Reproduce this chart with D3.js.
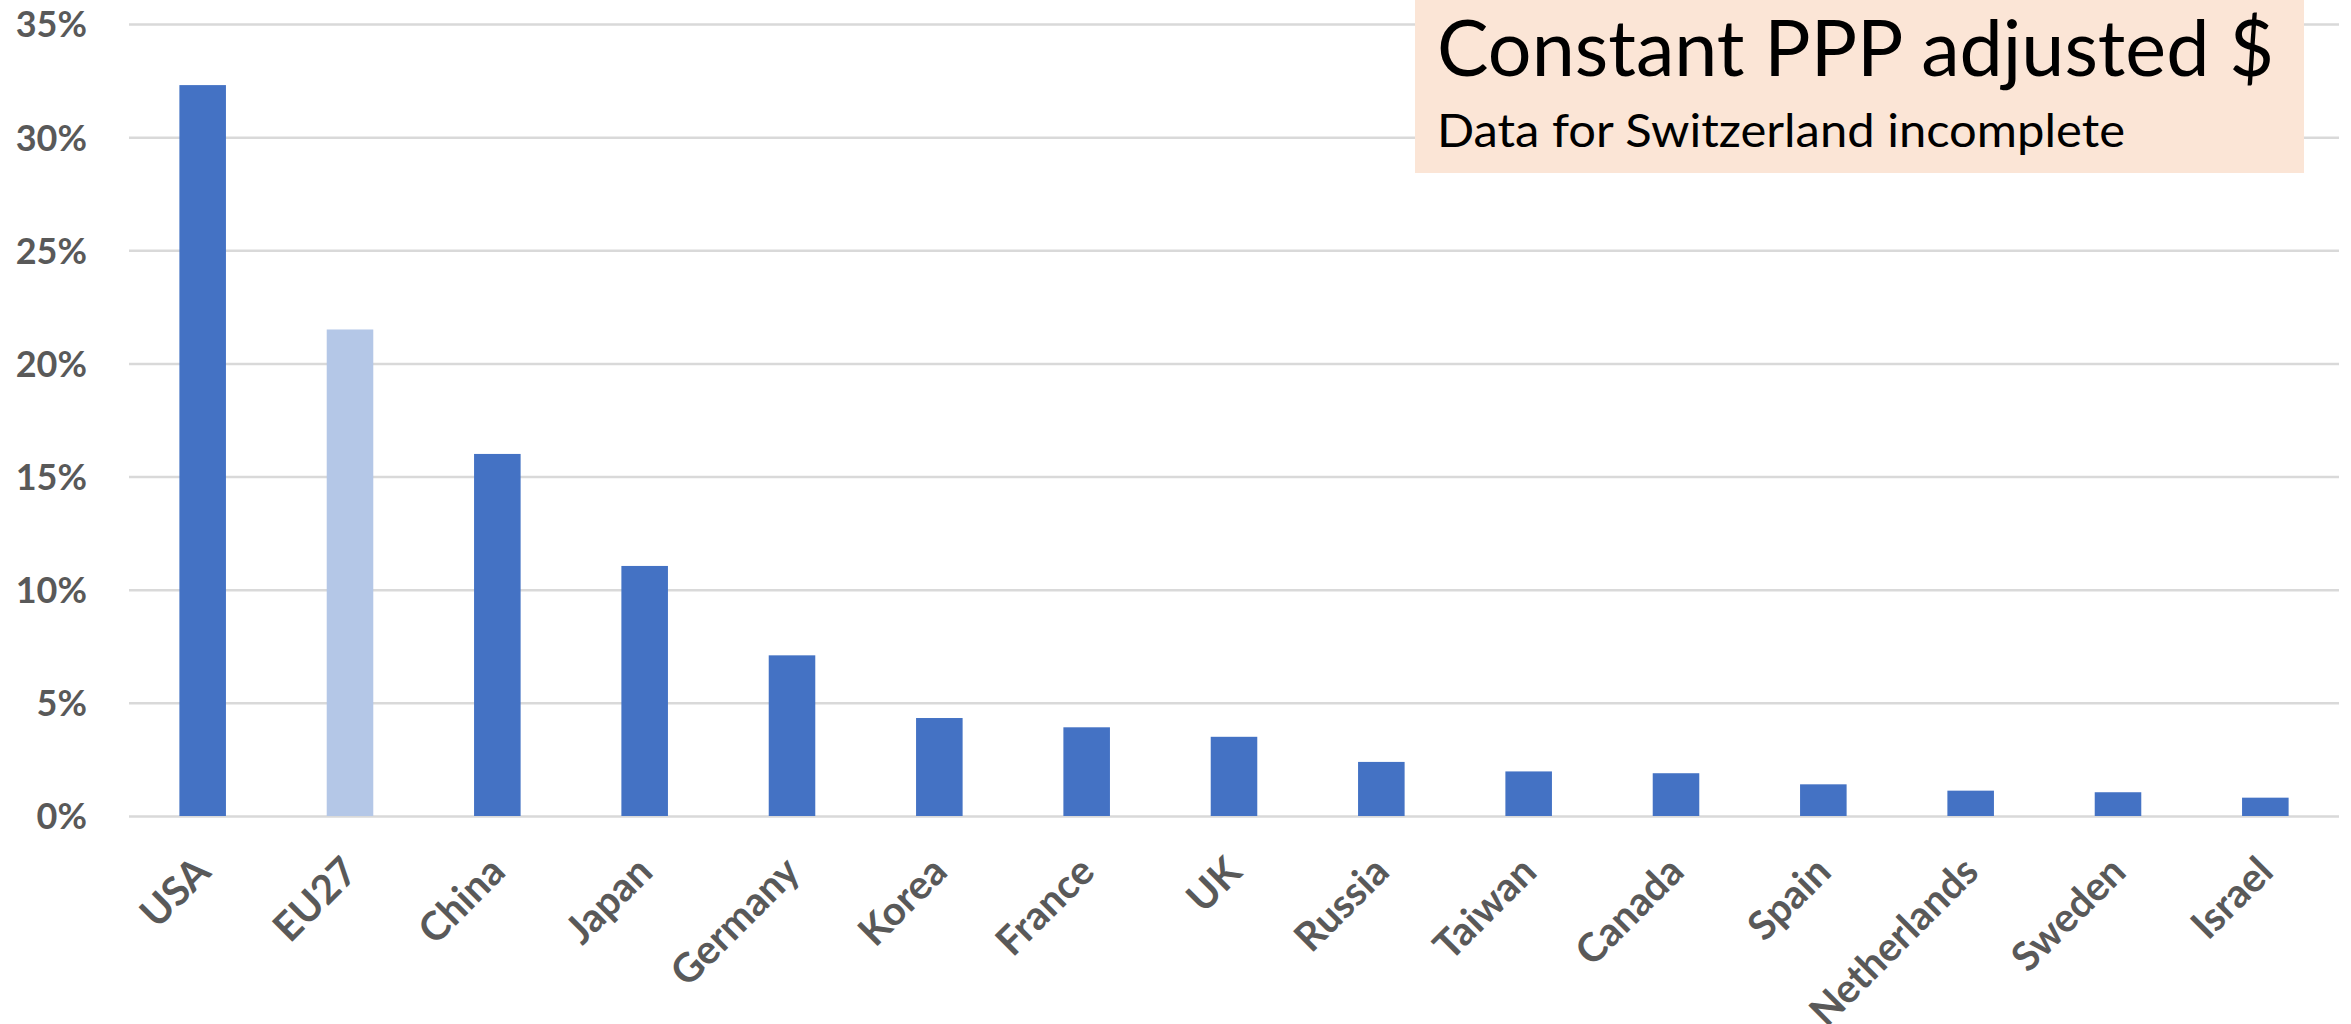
<!DOCTYPE html>
<html>
<head>
<meta charset="utf-8">
<script src="https://cdn.jsdelivr.net/npm/d3@7"></script>
<style>
  body { margin: 0; background: #fff; }
  svg { display: block; }
  text { font-family: Lato, "Open Sans", sans-serif; }
</style>
</head>
<body>
<svg id="chart" width="2351" height="1024"></svg>
<script>
// share of world R&D, constant PPP adjusted $
var categories = ['USA', 'EU27', 'China', 'Japan', 'Germany', 'Korea', 'France', 'UK',
                  'Russia', 'Taiwan', 'Canada', 'Spain', 'Netherlands', 'Sweden', 'Israel'];
var values = [32.3, 21.5, 16.0, 11.05, 7.1, 4.33, 3.92, 3.5, 2.39, 1.97, 1.89, 1.4, 1.12, 1.05, 0.81];
var highlighted = ['EU27'];
var yTicks = [0, 5, 10, 15, 20, 25, 30, 35];
var noteTitle = 'Constant PPP adjusted $';
var noteSub = 'Data for Switzerland incomplete';

var svg = d3.select('#chart');
// plot area (note: "top" is a reserved window global, so prefix these)
var plotLeft = 129, plotRight = 2339, plotTop = 24, plotBottom = 816;

var x = d3.scaleBand()
    .domain(categories)
    .range([plotLeft, plotRight])
    .paddingInner(0.684)
    .paddingOuter(0.342);

var y = d3.scaleLinear()
    .domain([0, 35])
    .range([plotBottom, plotTop]);

// gridlines + y labels
var yAxis = d3.axisLeft(y)
    .tickValues(yTicks)
    .tickSize(-(plotRight - plotLeft))
    .tickFormat(function(d) { return d + '%'; });

var gy = svg.append('g')
    .attr('transform', 'translate(' + plotLeft + ',0)')
    .call(yAxis);
gy.select('.domain').remove();
gy.selectAll('.tick line')
    .attr('stroke', '#d9d9d9')
    .attr('stroke-width', 2.5);
gy.selectAll('.tick text')
    .attr('x', -42)
    .attr('dy', '0.36em')
    .attr('fill', '#595959')
    .attr('font-size', 36)
    .attr('font-weight', 700);

// bars
svg.append('g').selectAll('rect')
    .data(values)
  .enter().append('rect')
    .attr('x', function(d, i) { return x(categories[i]); })
    .attr('y', function(d) { return y(d); })
    .attr('width', x.bandwidth())
    .attr('height', function(d) { return y(0) - y(d); })
    .attr('fill', function(d, i) {
      return highlighted.indexOf(categories[i]) >= 0 ? '#b4c7e7' : '#4472c4';
    });

// category labels, rotated
var xAxis = d3.axisBottom(x).tickSize(0);
var gx = svg.append('g')
    .attr('transform', 'translate(0,' + plotBottom + ')')
    .call(xAxis);
gx.select('.domain').remove();
gx.selectAll('.tick text')
    .attr('text-anchor', 'end')
    .attr('y', 0)
    .attr('dy', 0)
    .attr('transform', 'translate(10,58) rotate(-45)')
    .attr('fill', '#595959')
    .attr('font-size', 40)
    .attr('font-weight', 700);

// note box
var note = svg.append('g');
note.append('rect')
    .attr('x', 1415).attr('y', 0)
    .attr('width', 889).attr('height', 173)
    .attr('fill', '#fbe5d6');

// fit to the measured width (the original face is a bit narrower than Lato)
function fitText(sel, width) {
  sel.attr('textLength', width).attr('lengthAdjust', 'spacingAndGlyphs');
}

var t1 = note.append('text')
    .attr('x', 1437).attr('y', 76)
    .attr('font-size', 78)
    .attr('fill', '#000')
    .text(noteTitle);
fitText(t1, 837);

var t2 = note.append('text')
    .attr('x', 1437).attr('y', 147)
    .attr('font-size', 46)
    .attr('fill', '#000')
    .text(noteSub);
fitText(t2, 688);
</script>
</body>
</html>
